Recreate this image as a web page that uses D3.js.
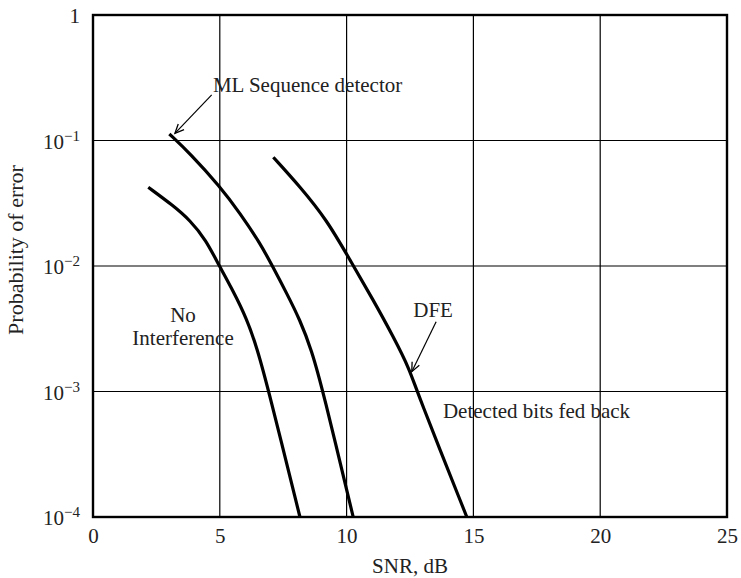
<!DOCTYPE html>
<html>
<head>
<meta charset="utf-8">
<script src="https://cdn.jsdelivr.net/npm/d3@7"></script>
<style>
  html, body { margin: 0; padding: 0; background: #fff; }
  svg { display: block; }
  text { font-family: "Liberation Serif", "DejaVu Serif", serif; fill: #222; }
</style>
</head>
<body>
<svg id="chart" width="741" height="578"></svg>
<script>
// ---- data ----
const xTicks = [0, 5, 10, 15, 20, 25];
const yTicks = [1, 1e-1, 1e-2, 1e-3, 1e-4];
const yTickExponents = [0, -1, -2, -3, -4];

const noInterferenceSNR = [2.18, 3.17, 3.82, 4.45, 4.98, 5.53, 6.06, 6.46, 6.91, 8.16];
const noInterferencePe  = [0.0424, 0.0302, 0.0232, 0.0162, 0.0100, 0.0063, 0.0038, 0.00225, 0.00105, 0.0001];

const mlSNR = [3.01, 3.82, 5.01, 5.80, 6.59, 7.09, 7.64, 8.16, 8.62, 9.06, 10.26];
const mlPe  = [0.1127, 0.0791, 0.0429, 0.0263, 0.0152, 0.00986, 0.00605, 0.00372, 0.00214, 0.00103, 0.0001];

const dfeSNR = [7.11, 8.16, 9.22, 10.13, 11.05, 11.84, 12.50, 12.76, 14.74];
const dfePe  = [0.0735, 0.0429, 0.0233, 0.0112, 0.00536, 0.00274, 0.00148, 0.00101, 0.0001];

const seriesNames = ["No Interference", "ML Sequence detector", "DFE"];

// annotation texts (positions in data units)
const labels = [
  { text: "ML Sequence detector", x: 4.73, y: Math.pow(10, -0.614), anchor: "start" },
  { text: "No", x: 3.55, y: Math.pow(10, -2.444), anchor: "middle" },
  { text: "Interference", x: 3.55, y: Math.pow(10, -2.629), anchor: "middle" },
  { text: "DFE", x: 13.41, y: Math.pow(10, -2.404), anchor: "middle" },
  { text: "Detected bits fed back", x: 13.80, y: Math.pow(10, -3.211), anchor: "start" }
];
const arrows = [
  { x1: 4.68, y1: Math.pow(10, -0.637), x2: 3.23, y2: Math.pow(10, -0.943) },
  { x1: 13.53, y1: Math.pow(10, -2.444), x2: 12.57, y2: Math.pow(10, -2.842) }
];

// ---- layout ----
const margin = { left: 93, top: 15, right: 14, bottom: 61 };
const W = 741, H = 578;
const svg = d3.select("#chart");

const x = d3.scaleLinear().domain([0, 25]).range([margin.left, W - margin.right]);
const y = d3.scaleLog().domain([1e-4, 1]).range([H - margin.bottom, margin.top]);

const fontSize = 21;

// grid
const grid = svg.append("g").attr("class", "grid");
grid.selectAll("line.v").data(xTicks.slice(1, -1)).join("line")
  .attr("x1", d => x(d)).attr("x2", d => x(d))
  .attr("y1", y(1)).attr("y2", y(1e-4))
  .attr("stroke", "#000").attr("stroke-width", 1.2);
grid.selectAll("line.h").data(yTicks.slice(1, -1)).join("line")
  .attr("y1", d => y(d)).attr("y2", d => y(d))
  .attr("x1", x(0)).attr("x2", x(25))
  .attr("stroke", "#000").attr("stroke-width", 1.2);

// x axis
const xAxis = svg.append("g")
  .attr("transform", `translate(0,${y(1e-4)})`)
  .call(d3.axisBottom(x).tickValues(xTicks).tickSize(0).tickPadding(11).tickFormat(d3.format("d")));
xAxis.select(".domain").remove();
xAxis.selectAll("text").attr("font-size", fontSize).attr("fill", "#222")
  .attr("font-family", "Liberation Serif, serif");

// y axis
const yAxis = svg.append("g")
  .attr("transform", `translate(${x(0)},0)`)
  .call(d3.axisLeft(y).tickValues(yTicks).tickSize(0).tickPadding(13).tickFormat(() => ""));
yAxis.select(".domain").remove();
yAxis.selectAll("text").each(function(d, i) {
  const t = d3.select(this)
    .attr("font-size", fontSize).attr("fill", "#222")
    .attr("font-family", "Liberation Serif, serif")
    .attr("dy", "0.38em");
  const e = yTickExponents[yTicks.indexOf(d)];
  if (e === 0) {
    t.text("1");
  } else {
    t.text("");
    t.append("tspan").text("10");
    t.append("tspan").attr("font-size", 15).attr("dy", -8).text("\u2212" + Math.abs(e));
  }
});

// frame
svg.append("rect")
  .attr("x", x(0)).attr("y", y(1))
  .attr("width", x(25) - x(0)).attr("height", y(1e-4) - y(1))
  .attr("fill", "none").attr("stroke", "#000").attr("stroke-width", 2.4);

// axis titles
svg.append("text")
  .attr("x", (x(0) + x(25)) / 2).attr("y", 573)
  .attr("text-anchor", "middle").attr("font-size", fontSize)
  .text("SNR, dB");
svg.append("text")
  .attr("transform", `translate(23,250) rotate(-90)`)
  .attr("text-anchor", "middle").attr("font-size", 22)
  .text("Probability of error");

// curves
const line = d3.line().x(d => x(d[0])).y(d => y(d[1])).curve(d3.curveBasis);
const curves = [
  d3.zip(noInterferenceSNR, noInterferencePe),
  d3.zip(mlSNR, mlPe),
  d3.zip(dfeSNR, dfePe)
];
svg.append("g").selectAll("path").data(curves).join("path")
  .attr("d", line)
  .attr("fill", "none").attr("stroke", "#000").attr("stroke-width", 3.2)
  .attr("stroke-linecap", "butt").attr("stroke-linejoin", "round")
  .append("title").text((d, i) => seriesNames[i]);

// arrows
svg.append("defs").append("marker")
  .attr("id", "arrowhead").attr("viewBox", "-10 -6 12 12")
  .attr("refX", 0).attr("refY", 0)
  .attr("markerWidth", 12).attr("markerHeight", 12)
  .attr("markerUnits", "userSpaceOnUse")
  .attr("orient", "auto")
  .append("path").attr("d", "M-9,-4 L0,0 L-9,4")
  .attr("fill", "none").attr("stroke", "#000").attr("stroke-width", 1.3);

svg.append("g").selectAll("line").data(arrows).join("line")
  .attr("x1", d => x(d.x1)).attr("y1", d => y(d.y1))
  .attr("x2", d => x(d.x2)).attr("y2", d => y(d.y2))
  .attr("stroke", "#000").attr("stroke-width", 1.2)
  .attr("marker-end", "url(#arrowhead)");

// labels
svg.append("g").selectAll("text").data(labels).join("text")
  .attr("x", d => x(d.x)).attr("y", d => y(d.y))
  .attr("text-anchor", d => d.anchor)
  .attr("font-size", fontSize)
  .text(d => d.text);
</script>
</body>
</html>
